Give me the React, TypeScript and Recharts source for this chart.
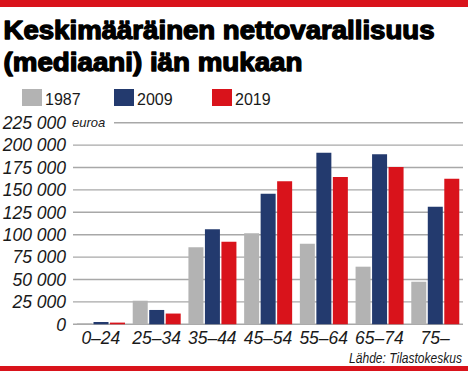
import { BarChart, Bar, XAxis, YAxis, CartesianGrid } from "recharts";

const ageGroups = ["0–24", "25–34", "35–44", "45–54", "55–64", "65–74", "75–"];
const values1987 = [1100, 26300, 85900, 101600, 90000, 64300, 47500];
const values2009 = [2600, 16000, 106000, 145800, 191500, 189700, 131300];
const values2019 = [1900, 12000, 92200, 159600, 164400, 175600, 162500];
const yTicks = [0, 25000, 50000, 75000, 100000, 125000, 150000, 175000, 200000, 225000];
const seriesNames = ["1987", "2009", "2019"];
const seriesColors = ["#b3b3b3", "#233a6e", "#d9131b"];

const titleLines = ["Keskimääräinen nettovarallisuus", "(mediaani) iän mukaan"];
const unitLabel = "euroa";
const sourceText = "Lähde: Tilastokeskus";

const data = ageGroups.map((age, i) => ({
  age,
  y1987: values1987[i],
  y2009: values2009[i],
  y2019: values2019[i],
}));
const seriesKeys = ["y1987", "y2009", "y2019"];

const RED = "#d9131b";
const FONT = "'Liberation Sans', Arial, sans-serif";
const legendX = [22, 114, 212];

function formatNumber(v: number) {
  return String(v).replace(/\B(?=(\d{3})+(?!\d))/g, " ");
}

function YTick({ y, payload }: any) {
  const isTop = payload.value === yTicks[yTicks.length - 1];
  return (
    <g>
      {isTop && <rect x={68} y={y - 3} width={46} height={6} fill="#fff" />}
      <text
        x={66}
        y={y}
        dy="0.36em"
        textAnchor="end"
        fontFamily={FONT}
        fontStyle="italic"
        fontSize={17.5}
        fill="#1a1a1a"
      >
        {formatNumber(payload.value)}
      </text>
      {isTop && (
        <text
          x={72}
          y={y}
          dy="0.36em"
          fontFamily={FONT}
          fontStyle="italic"
          fontSize={13}
          fill="#1a1a1a"
        >
          {unitLabel}
        </text>
      )}
    </g>
  );
}

function XTick({ x, y, payload }: any) {
  return (
    <text
      x={x}
      y={y + 12}
      textAnchor="middle"
      fontFamily={FONT}
      fontStyle="italic"
      fontSize={17.5}
      fill="#1a1a1a"
    >
      {payload.value}
    </text>
  );
}

function Decorations() {
  return (
    <svg
      width={468}
      height={371}
      style={{ position: "absolute", left: 0, top: 0, pointerEvents: "none" }}
    >
      <rect x={0} y={0} width={468} height={7} fill={RED} />
      {titleLines.map((line, i) => (
        <text
          key={line}
          x={3.5}
          y={38.5 + i * 32}
          fontFamily={FONT}
          fontWeight="bold"
          fontSize={25}
          textLength={i === 0 ? 431 : 299}
          lengthAdjust="spacingAndGlyphs"
          fill="#000"
          stroke="#000"
          strokeWidth={1.3}
          strokeLinejoin="round"
        >
          {line}
        </text>
      ))}
      {seriesNames.map((name, i) => (
        <g key={name}>
          <rect x={legendX[i]} y={89} width={20} height={17} fill={seriesColors[i]} />
          <text x={legendX[i] + 23} y={104.5} fontFamily={FONT} fontSize={16} fill="#1a1a1a">
            {name}
          </text>
        </g>
      ))}
      <text
        transform="translate(462,363) scale(0.86,1)"
        textAnchor="end"
        fontFamily={FONT}
        fontStyle="italic"
        fontSize={14}
        fill="#1a1a1a"
      >
        {sourceText}
      </text>
      <rect x={0} y={366} width={468} height={5} fill={RED} />
    </svg>
  );
}

export default function App() {
  return (
    <div
      style={{
        position: "absolute",
        left: 0,
        top: 0,
        width: 468,
        height: 371,
        background: "#fff",
      }}
    >
      <BarChart
        width={468}
        height={371}
        data={data}
        margin={{ top: 122.7, right: 5, bottom: 16.7, left: 0 }}
        barCategoryGap={4}
        barGap={1.5}
      >
        <CartesianGrid vertical={false} stroke="#a8a8a8" strokeWidth={1.4} />
        <XAxis
          dataKey="age"
          height={30}
          axisLine={false}
          tickLine={false}
          interval={0}
          tick={<XTick />}
        />
        <YAxis
          width={73}
          domain={[0, 225000]}
          ticks={yTicks}
          interval={0}
          axisLine={false}
          tickLine={false}
          tick={<YTick />}
        />
        {seriesKeys.map((key, i) => (
          <Bar
            key={key}
            dataKey={key}
            name={seriesNames[i]}
            fill={seriesColors[i]}
            isAnimationActive={false}
          />
        ))}
      </BarChart>
      <Decorations />
    </div>
  );
}
